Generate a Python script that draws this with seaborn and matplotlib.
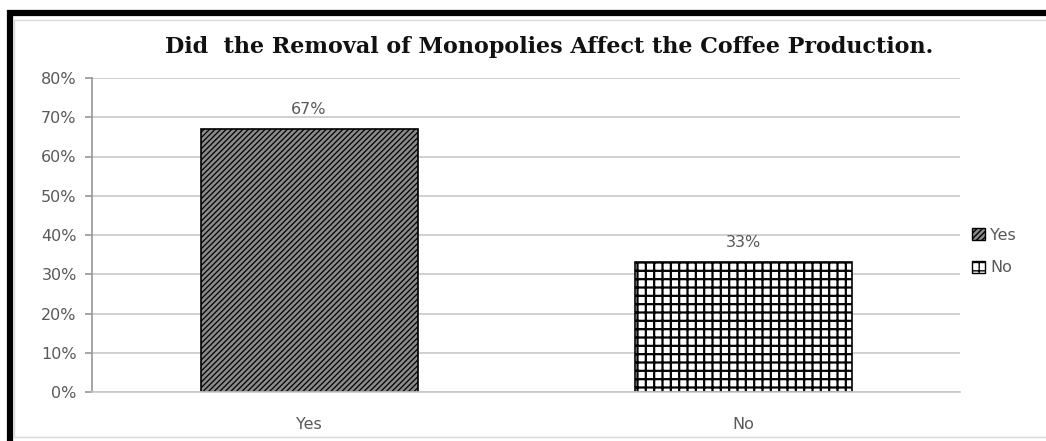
import matplotlib
matplotlib.use("Agg")
import matplotlib.pyplot as plt
import seaborn as sns
import pandas as pd
from matplotlib.lines import Line2D
from matplotlib.patches import Patch
from matplotlib.ticker import PercentFormatter

categories = ["Yes", "No"]
values = [0.67, 0.33]
value_labels = ["67%", "33%"]
title = "Did  the Removal of Monopolies Affect the Coffee Production."
yticks = [0, 0.1, 0.2, 0.3, 0.4, 0.5, 0.6, 0.7, 0.8]

sns.set_theme(style="white")
plt.rcParams["font.family"] = ["DejaVu Sans"]
plt.rcParams["hatch.linewidth"] = 1.0

fig = plt.figure(figsize=(10.46, 4.41), dpi=100)
ax = fig.add_axes([92 / 1046, 1 - 392 / 441, (960 - 92) / 1046, (392 - 78) / 441])

df = pd.DataFrame({"cat": categories, "val": values})
sns.barplot(data=df, x="cat", y="val", hue="cat", palette=["#8a8a8a", "#ffffff"],
            width=0.5, legend=False, ax=ax, saturation=1)

hatches = ["//////", "++"]
hatch_lw = [0.9, 1.6]
for p, h, lw in zip(ax.patches, hatches, hatch_lw):
    p.set_hatch(h)
    p.set_edgecolor("black")
    p.set_linewidth(1.2)
    if hasattr(p, "set_hatch_linewidth"):
        p.set_hatch_linewidth(lw)

ax.set_ylim(0, 0.8)
ax.set_yticks(yticks)
ax.yaxis.set_major_formatter(PercentFormatter(1.0, decimals=0))
ax.set_xlim(-0.5, 1.5)
ax.set_xlabel("")
ax.set_ylabel("")
ax.grid(axis="y", color="#c8c8c8", linewidth=1.2)
ax.set_axisbelow(True)
for s in ["top", "right"]:
    ax.spines[s].set_visible(False)
ax.spines["left"].set_color("#9a9a9a")
ax.spines["bottom"].set_color("#c8c8c8")
ax.tick_params(axis="y", which="major", left=True, length=5, color="#9a9a9a",
               labelsize=11.5, labelcolor="#595959", pad=6)
ax.tick_params(axis="x", bottom=False, labelsize=11.5, labelcolor="#595959", pad=12)

for i, (v, lab) in enumerate(zip(values, value_labels)):
    ax.text(i, v + 0.05, lab, ha="center", va="center", fontsize=11.5, color="#595959")

fig.text(549 / 1046, 1 - 47 / 441, title, ha="center", va="center",
         fontsize=16, fontweight="bold", family="DejaVu Serif", color="#111111")

handles = [Patch(facecolor="#8a8a8a", edgecolor="black", hatch="//////"),
           Patch(facecolor="white", edgecolor="black", hatch="++")]
fig.legend(handles, categories, loc="center left", bbox_to_anchor=(958 / 1046, 1 - 251.5 / 441),
           frameon=False, fontsize=11.5, labelcolor="#595959", handlelength=0.8,
           handleheight=0.8, handletextpad=0.3, labelspacing=1.1)

# outer frame (black left and top, faint gray inner)
fig.add_artist(Line2D([9.5 / 1046, 9.5 / 1046], [0, 1 - 10 / 441], color="black", linewidth=4.5,
                      transform=fig.transFigure, solid_capstyle="butt"))
fig.add_artist(Line2D([7 / 1046, 1], [1 - 12.5 / 441, 1 - 12.5 / 441], color="black", linewidth=4.5,
                      transform=fig.transFigure, solid_capstyle="butt"))
fig.add_artist(Line2D([14 / 1046, 14 / 1046], [1 - 437 / 441, 1 - 20 / 441], color="#d9d9d9",
                      linewidth=1, transform=fig.transFigure))
fig.add_artist(Line2D([14 / 1046, 1], [1 - 20 / 441, 1 - 20 / 441], color="#d9d9d9",
                      linewidth=1, transform=fig.transFigure))
fig.add_artist(Line2D([14 / 1046, 1], [1 - 437 / 441, 1 - 437 / 441], color="#d9d9d9",
                      linewidth=1, transform=fig.transFigure))

fig.savefig("out.png", dpi=100)
